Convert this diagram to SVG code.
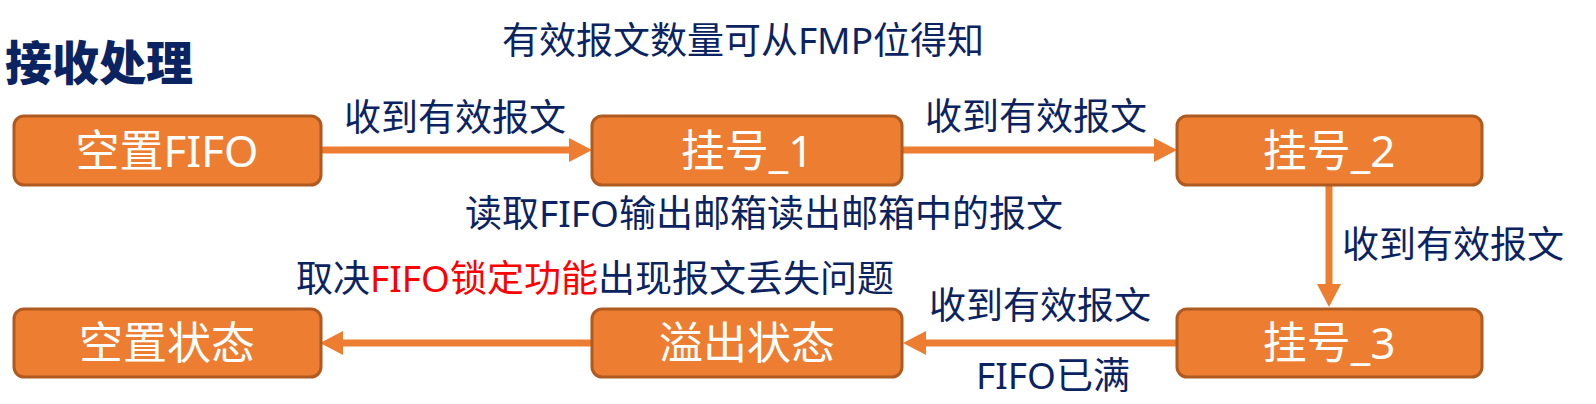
<svg xmlns="http://www.w3.org/2000/svg" width="1596" height="404" viewBox="0 0 1596 404">
<style>
.box{fill:#ED7D31;stroke:#AE5A21;stroke-width:3}
.bt{font-family:"Noto Sans","Noto Sans CJK SC",sans-serif;font-size:44px;fill:#FFFFFF;text-anchor:middle}
.lb{font-family:"Noto Sans","Noto Sans CJK SC",sans-serif;font-size:37px;fill:#0B2461}
.c{text-anchor:middle}
.red{fill:#FF0000}
.ln{stroke:#ED7D31;stroke-width:7;fill:none}
</style>
<defs>
<marker id="ah" markerUnits="userSpaceOnUse" markerWidth="23" markerHeight="24" refX="0" refY="12" orient="auto" viewBox="0 0 23 24">
<path d="M0,0 L23,12 L0,24 z" fill="#ED7D31"/>
</marker>
</defs>
<text x="5" y="80" style="font-family:'Noto Sans CJK SC',sans-serif;font-size:47px;font-weight:900;fill:#0B2461">接收处理</text>
<text class="lb c" x="743" y="54">有效报文数量可从FMP位得知</text>
<g id="connectors">
<line class="ln" x1="321" y1="150" x2="569" y2="150" marker-end="url(#ah)"/>
<line class="ln" x1="902" y1="150" x2="1154" y2="150" marker-end="url(#ah)"/>
<line class="ln" x1="1329" y1="185" x2="1329" y2="284" marker-end="url(#ah)"/>
<line class="ln" x1="1177" y1="343" x2="926" y2="343" marker-end="url(#ah)"/>
<line class="ln" x1="592" y1="343" x2="343" y2="343" marker-end="url(#ah)"/>
<text class="lb c" x="455" y="131">收到有效报文</text>
<text class="lb c" x="1036" y="130">收到有效报文</text>
<text class="lb c" x="764" y="227">读取FIFO输出邮箱读出邮箱中的报文</text>
<text class="lb" x="1342" y="258">收到有效报文</text>
<text class="lb c" x="595" y="292">取决<tspan class="red">FIFO锁定功能</tspan>出现报文丢失问题</text>
<text class="lb c" x="1040" y="319">收到有效报文</text>
<text class="lb c" x="1053" y="389">FIFO已满</text>
</g>
<g id="n1"><rect class="box" x="14" y="116" width="307" height="69" rx="10"/><text class="bt" x="167" y="167">空置FIFO</text></g>
<g id="n2"><rect class="box" x="592" y="116" width="310" height="69" rx="10"/><text class="bt" x="747" y="167">挂号_1</text></g>
<g id="n3"><rect class="box" x="1177" y="116" width="305" height="69" rx="10"/><text class="bt" x="1329" y="167">挂号_2</text></g>
<g id="n4"><rect class="box" x="1177" y="309" width="305" height="68" rx="10"/><text class="bt" x="1329" y="359">挂号_3</text></g>
<g id="n5"><rect class="box" x="592" y="309" width="310" height="68" rx="10"/><text class="bt" x="747" y="359">溢出状态</text></g>
<g id="n6"><rect class="box" x="14" y="309" width="307" height="68" rx="10"/><text class="bt" x="167" y="359">空置状态</text></g>
</svg>
